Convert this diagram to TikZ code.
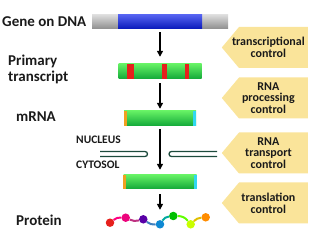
\documentclass[tikz,border=0pt]{standalone}
\usepackage{fontspec}
\setmainfont{Carlito}
\usetikzlibrary{arrows.meta, shapes.symbols, calc}
\definecolor{cgreen}{HTML}{22EA22}
\definecolor{cdkgreen}{HTML}{12A838}
\definecolor{cgrey}{HTML}{A6A6A6}
\definecolor{cblue}{HTML}{0A1EE8}
\definecolor{cred}{HTML}{E6201C}
\definecolor{corange}{HTML}{F0A020}
\definecolor{ccyan}{HTML}{30D8F0}
\definecolor{cyell}{HTML}{FAE49A}
\definecolor{cmemb}{HTML}{1C4A3C}
\definecolor{ctext}{HTML}{1A1A1A}
\tikzset{
  every picture/.style={x=1pt, y=-1pt},
  lefttext/.style={font=\fontsize{15}{16}\selectfont\bfseries, text=ctext, align=left, anchor=west, inner sep=0pt},
  side/.style={font=\fontsize{11.5}{12}\selectfont\bfseries, text=ctext, anchor=west, inner sep=0pt},
  bar/.style={minimum height=15pt, inner sep=0pt, top color=cgreen!70!white, middle color=cgreen, bottom color=cdkgreen},
  ctrl/.style={signal, signal to=west, signal pointer angle=100, fill=cyell, draw=none,
    minimum width=86pt, minimum height=41pt, anchor=east, inner sep=0pt},
  ctrltext/.style={align=center, text=ctext, font=\fontsize{12}{11.8}\selectfont\bfseries, inner sep=0pt, xshift=-5pt},
  flow/.style={-{Triangle[length=6pt, width=6pt]}, draw=black, line width=1.4pt},
  memb/.style={draw=cmemb, line width=1.3pt},
  bead/.style={circle, fill=#1, inner sep=0pt, minimum size=8.5pt},
  chain/.style={line width=2pt, draw=#1},
}

\begin{document}
\begin{tikzpicture}
  \useasboundingbox (0,0) rectangle (330,240);
  % stage labels
  \node[lefttext] (tgene) at (2,22) {Gene on DNA};
  \node[lefttext] (tpre) at (8,69) {Primary\\transcript};
  \node[lefttext] (tmrna) at (16,117) {mRNA};
  \node[lefttext] (tprot) at (16,220) {Protein};
  \node[side] (tnuc) at (76,140) {NUCLEUS};
  \node[side] (tcyt) at (76,165) {CYTOSOL};
  % the molecules
  \node[minimum width=136pt, minimum height=14pt, inner sep=0pt, top color=cgrey!40!white, middle color=cgrey, bottom color=cgrey!85!black] (dna) at (160,22) {};
  \node[minimum width=84pt, minimum height=14pt, inner sep=0pt, top color=cblue!70!white, middle color=cblue, bottom color=cblue!80!black] (gene) at (160,22) {};
  \node[bar, minimum width=83pt] (pre) at (160,71.5) {};
  \foreach \l/\r in {8.5/15.5, 43.5/48.5, 66.5/70.5}
    \fill[cred] ($(pre.north west)+(\l,0)$) rectangle ($(pre.south west)+(\r,0)$);
  \node[bar, minimum width=72pt] (mrna) at (160,118.5) {};
  \node[bar, minimum width=73pt, minimum height=14pt] (cyto) at (160,182) {};
  \foreach \n in {mrna, cyto} {
    \fill[corange] (\n.north west) rectangle ($(\n.south west)+(3,0)$);
    \fill[ccyan] ($(\n.north east)+(-3,0)$) rectangle (\n.south east);
  }
  % nuclear envelope
  \draw[memb] (100,151.5) -- (145,151.5) arc[start angle=-90, end angle=90, radius=2.5] -- (100,156.5);
  \draw[memb] (217,151.5) -- (171.5,151.5) arc[start angle=-90, end angle=-270, radius=2.5] -- (217,156.5);
  % protein chain
  \foreach \i/\x/\y/\c in {1/110/222.7/cred, 2/125.7/217.7/magenta!85!red, 3/143.3/219.3/violet!70!blue,
      4/160/224.3/cyan!70!blue, 5/173.3/216/green!75!black, 6/190.7/224.3/lime!85!yellow, 7/205.7/217.3/orange!90!yellow}
    \node[bead=\c] (b\i) at (\x,\y) {};
  \draw[chain=red!50!magenta] (b1) to[bend left=20] (b2);
  \draw[chain=magenta!50!violet] (b2) to[bend right=20] (b3);
  \draw[chain=violet!50!cyan] (b3) to[bend right=20] (b4);
  \draw[chain=cyan!50!green] (b4) to[bend left=25] (b5);
  \draw[chain=green!50!lime] (b5) to[bend left=25] (b6);
  \draw[chain=lime!50!orange] (b6) to[bend left=20] (b7);
  % steps
  \foreach \a/\b/\s/\e in {dna/pre/3/7, pre/mrna/4/2, mrna/cyto/3/5}
    \draw[flow, shorten <=\s pt, shorten >=\e pt] (\a.south) -- (\b.north);
  \draw[flow, shorten <=5pt, shorten >=10pt] (cyto.south) -- (b4.north);
  % control points
  \node[ctrl, label={[ctrltext]center:transcriptional\\control}] (c1) at (308,47.5) {};
  \node[ctrl, label={[ctrltext]center:RNA\\processing\\control}] (c2) at (308,98) {};
  \node[ctrl, label={[ctrltext]center:RNA\\transport\\control}] (c3) at (308,153) {};
  \node[ctrl, label={[ctrltext]center:translation\\control}] (c4) at (308,203) {};
\end{tikzpicture}
\end{document}
